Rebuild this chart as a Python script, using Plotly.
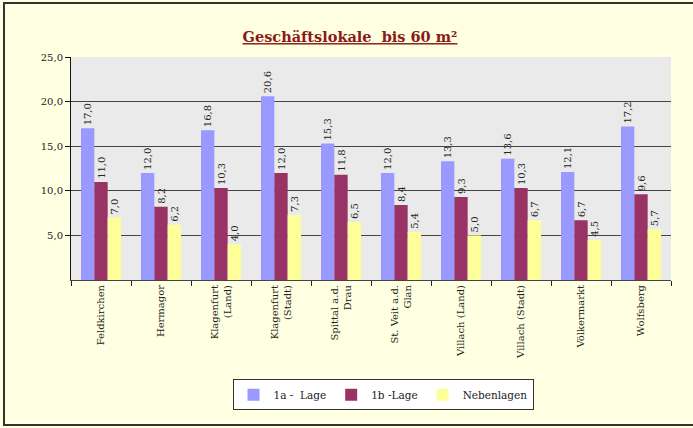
import plotly.graph_objects as go

categories = ["Feldkirchen", "Hermagor", "Klagenfurt<br>(Land)", "Klagenfurt<br>(Stadt)",
              "Spittal a.d.<br>Drau", "St. Veit a.d.<br>Glan", "Villach (Land)",
              "Villach (Stadt)", "Völkermarkt", "Wolfsberg"]
lage_1a = [17.0, 12.0, 16.8, 20.6, 15.3, 12.0, 13.3, 13.6, 12.1, 17.2]
lage_1b = [11.0, 8.2, 10.3, 12.0, 11.8, 8.4, 9.3, 10.3, 6.7, 9.6]
neben = [7.0, 6.2, 4.0, 7.3, 6.5, 5.4, 5.0, 6.7, 4.5, 5.7]
series_names = ["1a -  Lage", "1b -Lage", "Nebenlagen"]
colors = ["#9999FF", "#993366", "#FFFF99"]
y_ticks = [5, 10, 15, 20, 25]
y_ticktext = ["5,0", "10,0", "15,0", "20,0", "25,0"]

FONT = "DejaVu Serif"

fig = go.Figure()
for name, vals, col in zip(series_names, [lage_1a, lage_1b, neben], colors):
    fig.add_trace(go.Bar(
        x=categories, y=vals, name=name.replace("  ", "\u00a0 "),
        marker=dict(color=col, line=dict(width=0)),
        texttemplate="%{y:.1f}", textposition="outside", textangle=-90,
        textfont=dict(family=FONT, size=10, color="#222"),
        cliponaxis=False,
    ))

fig.update_layout(
    width=693, height=428,
    margin=dict(l=71, r=22, t=57, b=148),
    paper_bgcolor="#FFFFE1",
    plot_bgcolor="#EAEAEA",
    separators=",.",
    barmode="group", bargap=1/3, bargroupgap=0,
    uniformtext=dict(minsize=10, mode="show"),
    font=dict(family=FONT, size=10, color="#222"),
    title=dict(text="<u><b>Geschäftslokale \u00a0bis 60 m²</b></u>",
               x=350/693, xanchor="center", xref="container",
               y=1 - 37/428, yanchor="middle", yref="container",
               font=dict(family=FONT, size=14.5, color="#8B1A1A")),
    legend=dict(orientation="h", x=0.52, xanchor="center", y=-0.445, yanchor="top",
                bgcolor="white", bordercolor="#333", borderwidth=1,
                font=dict(family=FONT, size=10.5, color="#222"),
                itemwidth=30, traceorder="normal"),
    showlegend=True,
    shapes=[dict(type="rect", xref="paper", yref="paper",
                 x0=-71/600 + 4/600, x1=1 + 40/600, y0=(280 - 425) / 223, y1=(280 - 3) / 223,
                 line=dict(color="#333", width=2), layer="below")],
)
fig.update_xaxes(showline=True, linecolor="#444", linewidth=1,
                 ticks="outside", tickson="boundaries", ticklen=5, tickcolor="#222",
                 tickangle=-90, tickfont=dict(family=FONT, size=10, color="#222"),
                 showgrid=False)
fig.update_yaxes(range=[0, 25], tickvals=y_ticks, ticktext=y_ticktext,
                 showline=True, linecolor="#111", linewidth=1,
                 ticks="outside", ticklen=5, tickcolor="#111",
                 tickfont=dict(family=FONT, size=10, color="#222"),
                 showgrid=True, gridcolor="#444", gridwidth=1, zeroline=False)

fig.write_html("out.html", config={"displayModeBar": False},
               post_script="document.body.style.margin='0';document.body.style.overflow='hidden';")
